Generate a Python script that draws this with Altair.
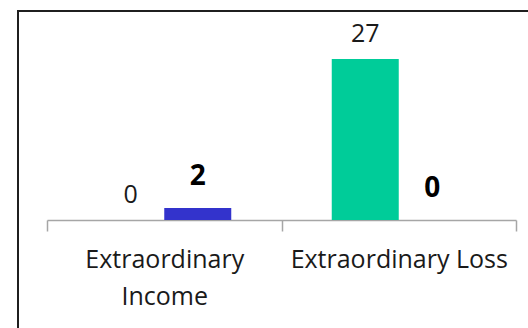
import altair as alt
import pandas as pd

# Extraordinary items, two periods per category
categories = ["Extraordinary Income", "Extraordinary Loss"]
series_names = ["Previous", "Current"]
previous_values = [0, 27]
current_values = [2, 0]

rows = []
for cat, p, c in zip(categories, previous_values, current_values):
    rows.append({"item": cat, "period": series_names[0], "value": p})
    rows.append({"item": cat, "period": series_names[1], "value": c})
df = pd.DataFrame(rows)

FONT = "Open Sans"

x_enc = alt.X(
    "item:N",
    sort=categories,
    scale=alt.Scale(paddingInner=0, paddingOuter=0),
    axis=alt.Axis(
        title=None,
        labelAngle=0,
        labelFont=FONT,
        labelFontSize=25,
        labelColor="#1a1a1a",
        labelLineHeight=37,
        labelPadding=16,
        labelLimit=400,
        labelOverlap=False,
        labelExpr="datum.label == 'Extraordinary Income' ? ['Extraordinary', 'Income'] : datum.label",
        tickBand="extent",
        tickSize=11,
        tickColor="#a6a6a6",
        domainColor="#a6a6a6",
        domainWidth=1.5,
        tickWidth=1.5,
    ),
)
xoff_enc = alt.XOffset(
    "period:N",
    sort=series_names,
    scale=alt.Scale(paddingInner=0, paddingOuter=0.75),
)
y_enc = alt.Y("value:Q", scale=alt.Scale(domain=[0, 30]), axis=None)

base = alt.Chart(df).encode(x=x_enc, xOffset=xoff_enc, y=y_enc)

bars = base.mark_bar(size=67).encode(
    color=alt.Color(
        "period:N",
        sort=series_names,
        scale=alt.Scale(domain=series_names, range=["#00cc99", "#3333cc"]),
        legend=None,
    )
)

labels_prev = base.transform_filter(alt.datum.period == series_names[0]).mark_text(
    font=FONT, fontSize=25, color="#1a1a1a", baseline="middle", dy=-25
).encode(text="value:Q")

labels_curr = base.transform_filter(alt.datum.period == series_names[1]).mark_text(
    font=FONT, fontSize=28, fontWeight="bold", color="#000000", baseline="middle", dy=-31
).encode(text="value:Q")

frame = alt.Chart(alt.Data(values=[{}])).mark_rect(
    fill=None, stroke="#1f1f1f", strokeWidth=2
).encode(
    x=alt.value(-29), x2=alt.value(520), y=alt.value(-30), y2=alt.value(300)
)

chart = (
    alt.layer(frame, bars, labels_prev, labels_curr)
    .properties(
        width=469,
        height=179,
        autosize=alt.AutoSizeParams(type="none"),
        padding={"left": 47, "top": 41, "right": 12, "bottom": 108},
        background="white",
    )
    .configure_view(stroke=None)
)

chart.save("out.html", embed_options={"renderer": "svg", "actions": False})
